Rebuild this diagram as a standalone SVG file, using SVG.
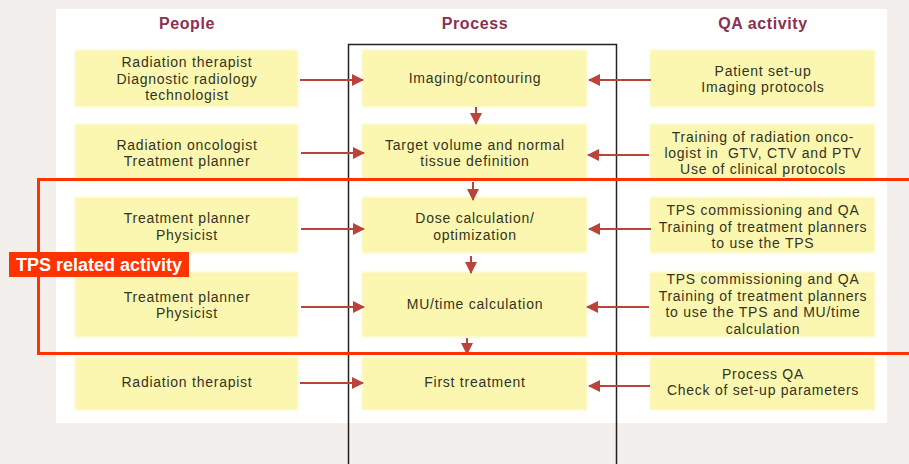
<svg xmlns="http://www.w3.org/2000/svg" width="909" height="464" viewBox="0 0 909 464">
<defs>
<marker id="ah" viewBox="0 0 12 12" refX="11" refY="6" markerWidth="12" markerHeight="12" markerUnits="userSpaceOnUse" orient="auto">
<path d="M0,0 L12,6 L0,12 Z" fill="#b8443a"/>
</marker>
<filter id="soft" x="-5%" y="-10%" width="110%" height="120%"><feGaussianBlur stdDeviation="1.2"/></filter>
</defs>
<style>
.box{fill:#fbf6b0;filter:url(#soft)}
.t{font-family:"Liberation Sans",Arial,sans-serif;font-size:14px;fill:#34341c;text-anchor:middle;letter-spacing:0.75px;white-space:pre}
.h{font-family:"Liberation Sans",Arial,sans-serif;font-size:16px;font-weight:bold;fill:#8a3050;text-anchor:middle;letter-spacing:0.6px}
.c{stroke:#b8443a;stroke-width:2;fill:none;marker-end:url(#ah)}
</style>
<rect x="0" y="0" width="909" height="464" fill="#f2efec"/>
<rect x="56" y="9" width="831" height="414" fill="#ffffff"/>
<g id="headers">
<text class="h" x="187" y="29">People</text>
<text class="h" x="475" y="29">Process</text>
<text class="h" x="763" y="29">QA activity</text>
</g>
<g id="process-frame"><rect x="348.5" y="44.5" width="268" height="430" fill="none" stroke="#222" stroke-width="1.5"/></g>
<g id="p1"><rect class="box" x="75" y="50" width="223" height="57"/>
<text class="t" x="187" y="67">Radiation therapist</text><text class="t" x="187" y="84">Diagnostic radiology</text><text class="t" x="187" y="100">technologist</text></g>
<g id="p2"><rect class="box" x="75" y="124" width="223" height="57"/>
<text class="t" x="187" y="150">Radiation oncologist</text><text class="t" x="187" y="166">Treatment planner</text></g>
<g id="p3"><rect class="box" x="75" y="197" width="223" height="56"/>
<text class="t" x="187" y="223">Treatment planner</text><text class="t" x="187" y="240">Physicist</text></g>
<g id="p4"><rect class="box" x="75" y="272" width="223" height="65"/>
<text class="t" x="187" y="302">Treatment planner</text><text class="t" x="187" y="318">Physicist</text></g>
<g id="p5"><rect class="box" x="75" y="357" width="223" height="53"/>
<text class="t" x="187" y="387">Radiation therapist</text></g>
<g id="m1"><rect class="box" x="362" y="50" width="225" height="57"/>
<text class="t" x="475" y="83">Imaging/contouring</text></g>
<g id="m2"><rect class="box" x="362" y="124" width="225" height="57"/>
<text class="t" x="475" y="150">Target volume and normal</text><text class="t" x="475" y="166">tissue definition</text></g>
<g id="m3"><rect class="box" x="362" y="197" width="225" height="56"/>
<text class="t" x="475" y="223">Dose calculation/</text><text class="t" x="475" y="240">optimization</text></g>
<g id="m4"><rect class="box" x="362" y="272" width="225" height="65"/>
<text class="t" x="475" y="309">MU/time calculation</text></g>
<g id="m5"><rect class="box" x="362" y="357" width="225" height="53"/>
<text class="t" x="475" y="387">First treatment</text></g>
<g id="q1"><rect class="box" x="650" y="50" width="225" height="57"/>
<text class="t" x="763" y="76">Patient set-up</text><text class="t" x="763" y="92">Imaging protocols</text></g>
<g id="q2"><rect class="box" x="650" y="124" width="225" height="57"/>
<text class="t" x="763" y="142">Training of radiation onco-</text><text class="t" x="763" y="158">logist in  GTV, CTV and PTV</text><text class="t" x="763" y="174">Use of clinical protocols</text></g>
<g id="q3"><rect class="box" x="650" y="197" width="225" height="56"/>
<text class="t" x="763" y="215">TPS commissioning and QA</text><text class="t" x="763" y="232">Training of treatment planners</text><text class="t" x="763" y="248">to use the TPS</text></g>
<g id="q4"><rect class="box" x="650" y="272" width="225" height="65"/>
<text class="t" x="763" y="284">TPS commissioning and QA</text><text class="t" x="763" y="301">Training of treatment planners</text><text class="t" x="763" y="317">to use the TPS and MU/time</text><text class="t" x="763" y="334">calculation</text></g>
<g id="q5"><rect class="box" x="650" y="357" width="225" height="53"/>
<text class="t" x="763" y="379">Process QA</text><text class="t" x="763" y="395">Check of set-up parameters</text></g>
<g id="connectors">
<line class="c" x1="300" y1="80" x2="363" y2="80"/>
<line class="c" x1="301" y1="153" x2="364" y2="153"/>
<line class="c" x1="301" y1="229" x2="364" y2="229"/>
<line class="c" x1="301" y1="307" x2="364" y2="307"/>
<line class="c" x1="300" y1="383" x2="363" y2="383"/>
<line class="c" x1="651" y1="80" x2="589" y2="80"/>
<line class="c" x1="649" y1="155" x2="588" y2="155"/>
<line class="c" x1="651" y1="229" x2="589" y2="229"/>
<line class="c" x1="649" y1="307" x2="587" y2="307"/>
<line class="c" x1="650" y1="386" x2="589" y2="386"/>
<line class="c" x1="476" y1="107" x2="476" y2="124"/>
<line class="c" x1="473" y1="182" x2="473" y2="200"/>
<line class="c" x1="471" y1="256" x2="471" y2="273"/>
<line class="c" x1="467" y1="338" x2="467" y2="354"/>
</g>
<g id="tps-region">
<rect x="38.5" y="179.5" width="890" height="174" fill="none" stroke="#ff3300" stroke-width="3"/>
<rect x="9" y="252" width="180" height="25" fill="#ff3300"/>
<text x="99" y="271" font-family="Liberation Sans,Arial,sans-serif" font-size="18" font-weight="bold" fill="#ffffff" text-anchor="middle">TPS related activity</text>
</g>
</svg>
